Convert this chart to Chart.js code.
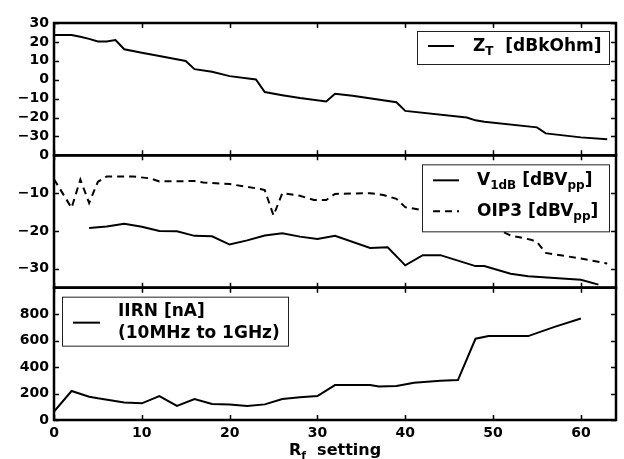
<!DOCTYPE html>
<html>
<head>
<meta charset="utf-8">
<script src="https://cdn.jsdelivr.net/npm/chart.js@4.4.0/dist/chart.umd.min.js"></script>
<style>
  html, body { margin: 0; padding: 0; background: #fff; }
  #wrap { width: 624px; height: 459px; position: relative; }
</style>
</head>
<body>
<div id="wrap"><canvas id="chart" width="624" height="459"></canvas></div>
<script>
// Z_T [dBkOhm] (top panel)
const ztX = [0, 2, 3, 4, 5, 6, 7, 8, 10, 12, 15, 16, 18, 20, 23, 24, 26, 28, 31, 32, 34, 39, 40, 47, 48, 49, 55, 56, 60, 63];
const ztY = [23.6, 23.6, 22.7, 21.6, 20.2, 20.2, 21.0, 16.1, 14.3, 12.6, 9.9, 5.6, 4.2, 1.9, 0.1, -6.5, -8.2, -9.7, -11.5, -7.4, -8.5, -11.9, -16.5, -20.0, -21.5, -22.2, -25.2, -28.4, -30.5, -31.5];

// V1dB and OIP3 [dBVpp] (middle panel)
const v1dbX = [4, 6, 8, 10, 12, 14, 16, 18, 20, 22, 24, 26, 28, 30, 32, 36, 38, 40, 42, 44, 48, 49, 52, 54, 60, 62];
const v1dbY = [-19.2, -18.8, -18.1, -18.9, -20.0, -20.1, -21.3, -21.4, -23.6, -22.5, -21.2, -20.6, -21.5, -22.1, -21.3, -24.5, -24.3, -29.1, -26.4, -26.4, -29.3, -29.3, -31.3, -32.0, -32.9, -34.2];
const oip3X = [0, 2, 3, 4, 5, 6, 9, 11, 12, 16, 17, 20, 23.5, 24, 25, 26, 28, 29.6, 31, 32, 36, 37.5, 39, 40, 41.7, 44, 48, 50, 52, 54.3, 55, 56, 60, 63];
const oip3Y = [-6.3, -13.9, -6.4, -12.6, -7.0, -5.6, -5.6, -6.1, -6.9, -6.8, -7.2, -7.6, -8.9, -9.2, -15.9, -10.0, -10.7, -11.8, -11.8, -10.2, -10.0, -10.5, -11.5, -13.7, -14.4, -15.0, -17.0, -19.0, -21.2, -22.3, -22.9, -25.8, -27.3, -28.6];

// IIRN [nA] 10MHz to 1GHz (bottom panel)
const iirnX = [0, 2, 4, 5, 8, 10, 12, 14, 16, 18, 20, 22, 24, 26, 28, 30, 32, 36, 37, 39, 41, 44, 46, 48, 49.5, 54, 57, 60];
const iirnY = [63, 219, 176, 164, 133, 126, 181, 106, 158, 121, 118, 106, 118, 158, 171, 181, 264, 264, 254, 257, 282, 297, 302, 614, 634, 634, 704, 767];

// tick labels
const xTicks = [0, 10, 20, 30, 40, 50, 60];
const ztTicks = [30, 20, 10, 0, -10, -20, -30];
const vTicks = [0, -10, -20, -30];
const iTicks = [0, 200, 400, 600, 800];

const FONT = '"DejaVu Sans"';
const LEG = 17;
Chart.defaults.font.family = FONT;
Chart.defaults.font.weight = 'bold';
Chart.defaults.font.size = 14;
Chart.defaults.color = '#000';

function pts(xs, ys) {
  return xs.map((x, i) => ({ x: x, y: ys[i] }));
}
function minus(v) {
  return String(v).replace('-', '\u2212');
}

function yScale(min, max, ticks) {
  return {
    type: 'linear',
    position: 'left',
    stack: 'panels',
    stackWeight: 1,
    min: min,
    max: max,
    grid: { display: false, drawTicks: false },
    border: { display: false },
    ticks: { padding: 5, autoSkip: false, callback: (v) => minus(v) },
    afterBuildTicks: (s) => { s.ticks = ticks.map(v => ({ value: v })); },
    afterFit: (s) => { s.width = 54; }
  };
}

// text with subscripts, parts = [[text, isSub], ...]
function richText(ctx, x, y, parts, size) {
  let cx = x;
  parts.forEach(p => {
    const sub = p[1];
    ctx.font = 'bold ' + (sub ? Math.round(size * 0.7) : size) + 'px ' + FONT;
    ctx.fillText(p[0], cx, sub ? y + size * 0.3 : y);
    cx += ctx.measureText(p[0]).width;
  });
  return cx - x;
}
function richWidth(ctx, parts, size) {
  let w = 0;
  parts.forEach(p => {
    ctx.font = 'bold ' + (p[1] ? Math.round(size * 0.7) : size) + 'px ' + FONT;
    w += ctx.measureText(p[0]).width;
  });
  return w;
}

function legendBox(ctx, x, y, w, h) {
  ctx.save();
  ctx.fillStyle = '#fff';
  ctx.fillRect(x, y, w, h);
  ctx.strokeStyle = '#222';
  ctx.lineWidth = 1;
  ctx.strokeRect(x + 0.5, y + 0.5, w, h);
  ctx.restore();
}
function legendLine(ctx, x1, x2, y, dash) {
  ctx.save();
  ctx.strokeStyle = '#000';
  ctx.lineWidth = 2;
  ctx.setLineDash(dash || []);
  ctx.beginPath();
  ctx.moveTo(x1, y);
  ctx.lineTo(x2, y);
  ctx.stroke();
  ctx.restore();
}

const decorations = {
  id: 'decorations',
  afterDatasetsDraw(chart) {
    const ctx = chart.ctx;
    const area = chart.chartArea;
    const xs = chart.scales.x;
    const panels = [chart.scales.yZ, chart.scales.yV, chart.scales.yI];

    ctx.save();
    ctx.fillStyle = '#000';
    ctx.textBaseline = 'middle';
    ctx.textAlign = 'left';

    // legend: Z_T
    const sZ = chart.scales.yZ;
    let bx = area.right - 199, by = sZ.top + 8;
    legendBox(ctx, bx, by, 192, 33);
    legendLine(ctx, bx + 11, bx + 37, by + 15);
    richText(ctx, bx + 56, by + 16, [['Z', false], ['T', true], ['  [dBkOhm]', false]], LEG);

    // legend: V1dB / OIP3
    const sV = chart.scales.yV;
    bx = area.right - 194; by = sV.top + 9;
    legendBox(ctx, bx, by, 187, 67);
    legendLine(ctx, bx + 11, bx + 37, by + 16);
    legendLine(ctx, bx + 11, bx + 37, by + 47, [7, 5]);
    richText(ctx, bx + 55, by + 16, [['V', false], ['1dB', true], [' [dBV', false], ['pp', true], [']', false]], LEG);
    richText(ctx, bx + 55, by + 47, [['OIP3 [dBV', false], ['pp', true], [']', false]], LEG);

    // legend: IIRN
    const sI = chart.scales.yI;
    bx = area.left + 8; by = sI.top + 9;
    legendBox(ctx, bx, by, 226, 49);
    legendLine(ctx, bx + 11, bx + 38, by + 26);
    richText(ctx, bx + 56, by + 15, [['IIRN [nA]', false]], LEG);
    richText(ctx, bx + 56, by + 37, [['(10MHz to 1GHz)', false]], LEG);

    // panel frames and inward ticks
    ctx.strokeStyle = '#000';
    panels.forEach(s => {
      ctx.lineWidth = 1.5;
      ctx.beginPath();
      xTicks.forEach(v => {
        const px = Math.round(xs.getPixelForValue(v)) + 0.5;
        ctx.moveTo(px, s.top); ctx.lineTo(px, s.top + 5);
        ctx.moveTo(px, s.bottom); ctx.lineTo(px, s.bottom - 5);
      });
      s.ticks.forEach(t => {
        const py = Math.round(s.getPixelForValue(t.value)) + 0.5;
        ctx.moveTo(area.left, py); ctx.lineTo(area.left + 5, py);
        ctx.moveTo(area.right, py); ctx.lineTo(area.right - 5, py);
      });
      ctx.stroke();
      ctx.lineWidth = 2.5;
      ctx.strokeRect(area.left, s.top, area.right - area.left, s.bottom - s.top);
    });

    // x axis title with subscript
    const title = [['R', false], ['f', true], ['  setting', false]];
    const tw = richWidth(ctx, title, 16);
    richText(ctx, (area.left + area.right) / 2 - tw / 2, 451, title, 16);
    ctx.restore();
  }
};

const line = (data, yAxisID, dash) => ({
  data: data,
  yAxisID: yAxisID,
  borderColor: '#000',
  borderWidth: 2,
  borderDash: dash || [],
  pointRadius: 0,
  tension: 0,
  fill: false
});

new Chart(document.getElementById('chart'), {
  type: 'line',
  data: {
    datasets: [
      line(pts(ztX, ztY), 'yZ'),
      line(pts(v1dbX, v1dbY), 'yV'),
      line(pts(oip3X, oip3Y), 'yV', [7, 5]),
      line(pts(iirnX, iirnY), 'yI')
    ]
  },
  options: {
    responsive: false,
    animation: false,
    devicePixelRatio: 1,
    layout: { padding: { top: 23, right: 8, bottom: 17, left: 0 } },
    plugins: { legend: { display: false }, tooltip: { enabled: false } },
    scales: {
      x: {
        type: 'linear',
        min: 0,
        max: 64,
        grid: { display: false, drawTicks: false },
        border: { display: false },
        ticks: { padding: 5, maxRotation: 0, autoSkip: false },
        afterBuildTicks: (s) => { s.ticks = xTicks.map(v => ({ value: v })); },
        afterFit: (s) => { s.height = 22; }
      },
      yI: yScale(0, 1000, iTicks),
      yV: yScale(-35, 0, vTicks),
      yZ: yScale(-40, 30, ztTicks)
    }
  },
  plugins: [decorations]
});
</script>
</body>
</html>
